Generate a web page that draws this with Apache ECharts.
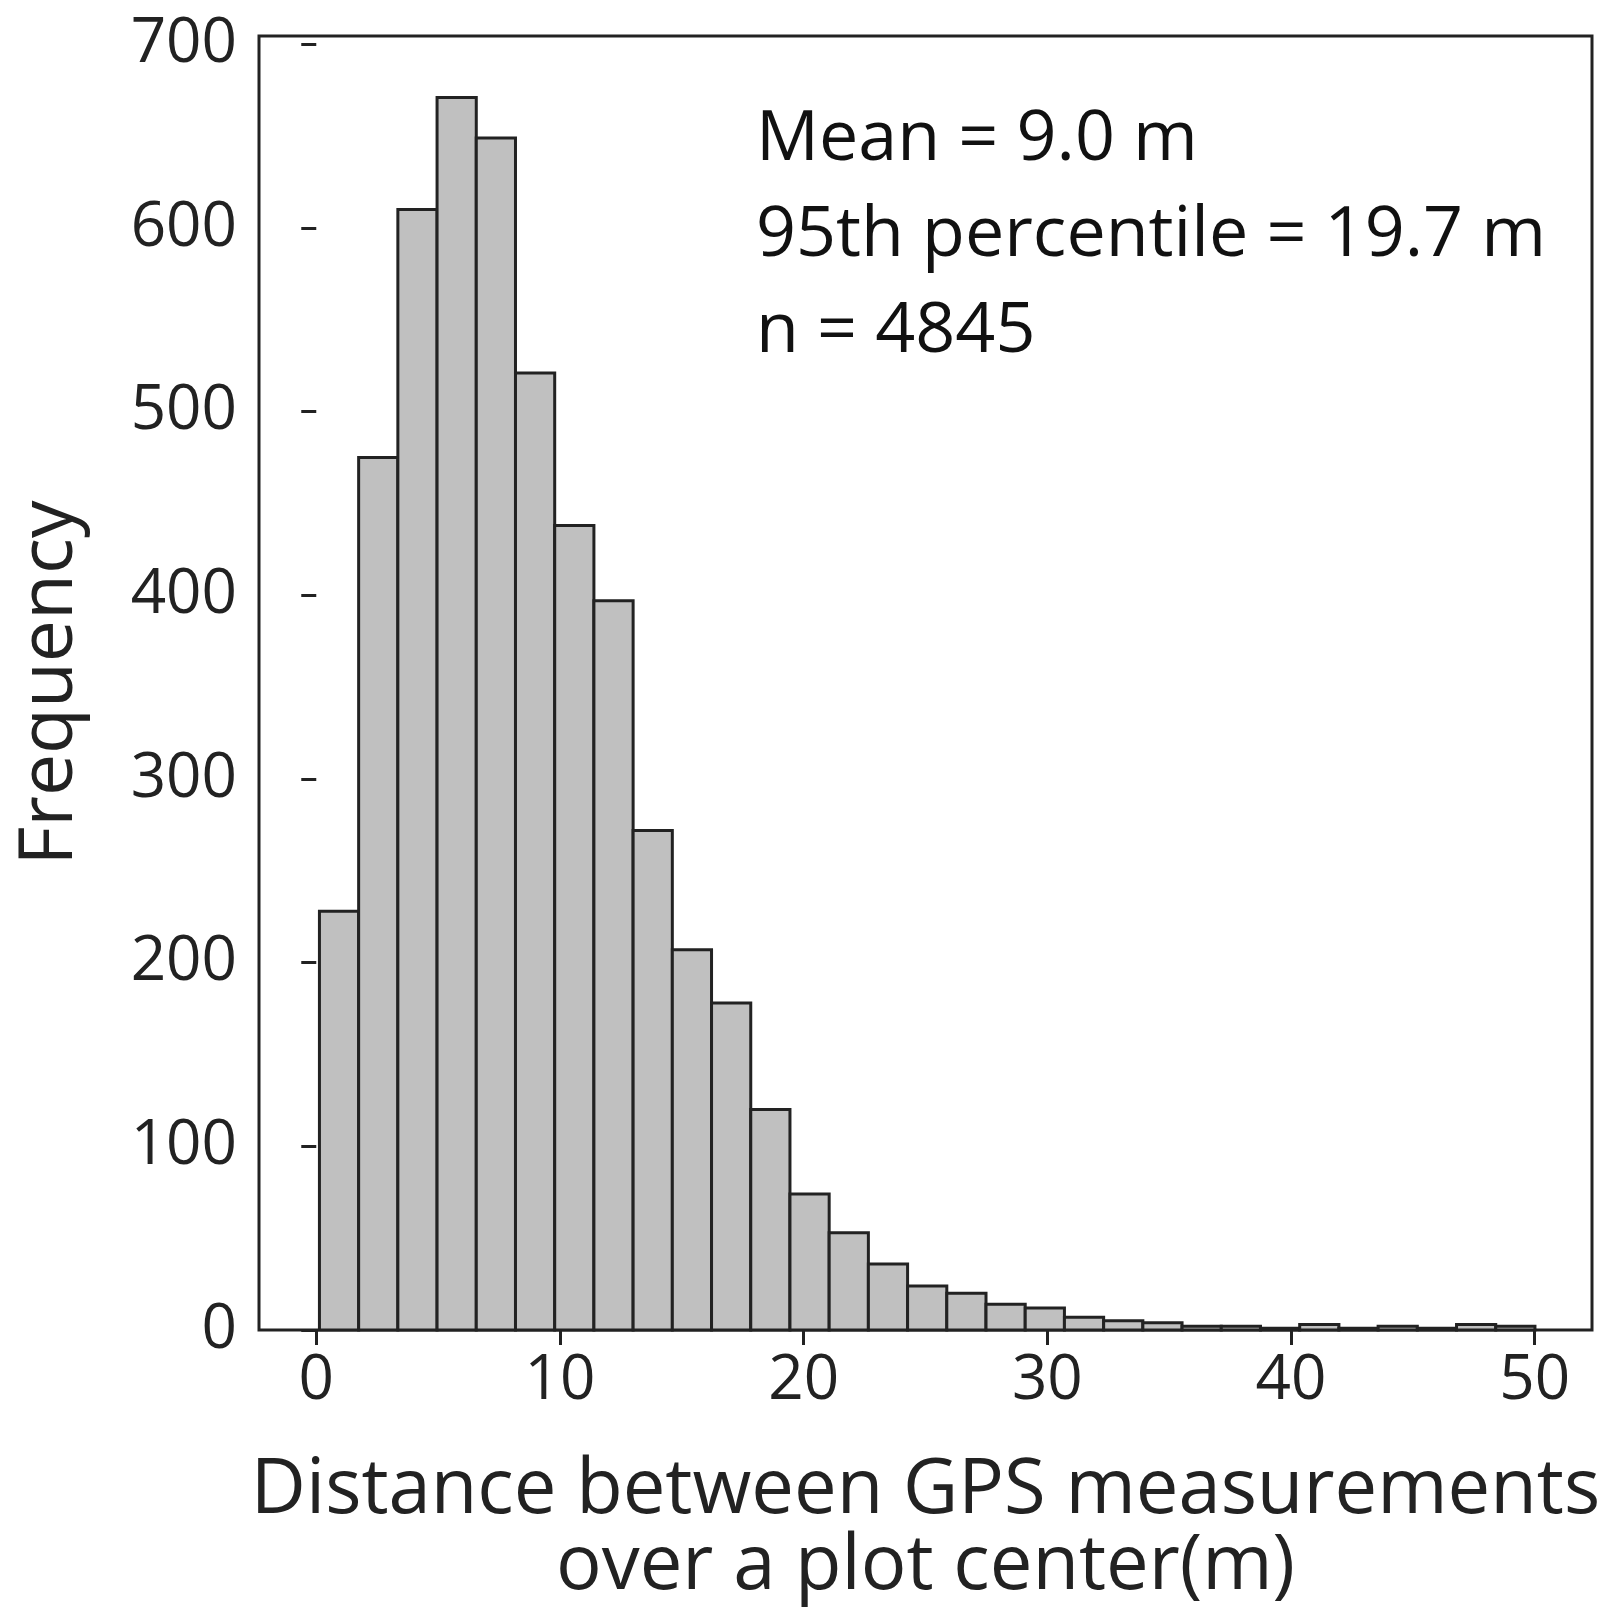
<!DOCTYPE html><html><head><meta charset="utf-8"><script src="https://cdn.jsdelivr.net/npm/echarts@6/dist/echarts.min.js"></script>
<style>html,body{margin:0;background:#fff}#c{width:1616px;height:1610px}</style></head><body><div id="c"></div><script>
const binStart = 0.13;
const binWidth = 1.609;
const counts = [228,475,610,671,649,521,438,397,272,207,178,120,74,53,36,24,20,14,12,7,5,4,2,2,1,3,1,2,1,3,2];
const xTicks = [0,10,20,30,40,50];
const yTicks = [0,100,200,300,400,500,600,700];
const annot = ['Mean = 9.0 m','95th percentile = 19.7 m','n = 4845'];
const data = counts.map((c,i)=>[binStart+i*binWidth, binStart+(i+1)*binWidth, c]);
const F = '"Open Sans", "DejaVu Sans", sans-serif';
const chart = echarts.init(document.getElementById('c'));
chart.setOption({
  animation:false,
  grid:{left:259,right:24,top:36,bottom:279,show:true,borderColor:'#222',borderWidth:3},
  xAxis:{type:'value',min:-2.35,max:52.35,
    axisLine:{show:false},splitLine:{show:false},
    axisTick:{show:true,length:15,lineStyle:{color:'#222',width:3},customValues:xTicks},
    axisLabel:{fontSize:62,color:'#222',fontFamily:F,margin:20,customValues:xTicks},
    name:'Distance between GPS measurements\nover a plot center(m)',nameLocation:'middle',nameGap:123,
    nameTextStyle:{fontSize:76,color:'#222',fontFamily:F,lineHeight:76,verticalAlign:'top'}},
  yAxis:{type:'value',min:0,max:704.5,
    axisLine:{show:false},splitLine:{show:false},
    axisTick:{show:true,length:15,lineStyle:{color:'#222',width:3},customValues:yTicks},
    axisLabel:{fontSize:62,color:'#222',fontFamily:F,margin:22,customValues:yTicks},
    name:'Frequency',nameLocation:'middle',nameGap:171,
    nameTextStyle:{fontSize:75,color:'#222',fontFamily:F}},
  graphic:annot.map((t,i)=>({type:'text',left:756,top:105+i*96,style:{text:t,font:'70px '+F,fill:'#111'}})),
  series:[{type:'custom',data:data,encode:{x:[0,1],y:2},
    renderItem:(params,api)=>{
      const p0=api.coord([api.value(0),api.value(2)]);
      const p1=api.coord([api.value(1),0]);
      return {type:'rect',shape:{x:p0[0],y:p0[1],width:p1[0]-p0[0],height:p1[1]-p0[1]},
        style:{fill:'#c0c0c0',stroke:'#222',lineWidth:3}};
    }}]
});
</script></body></html>
